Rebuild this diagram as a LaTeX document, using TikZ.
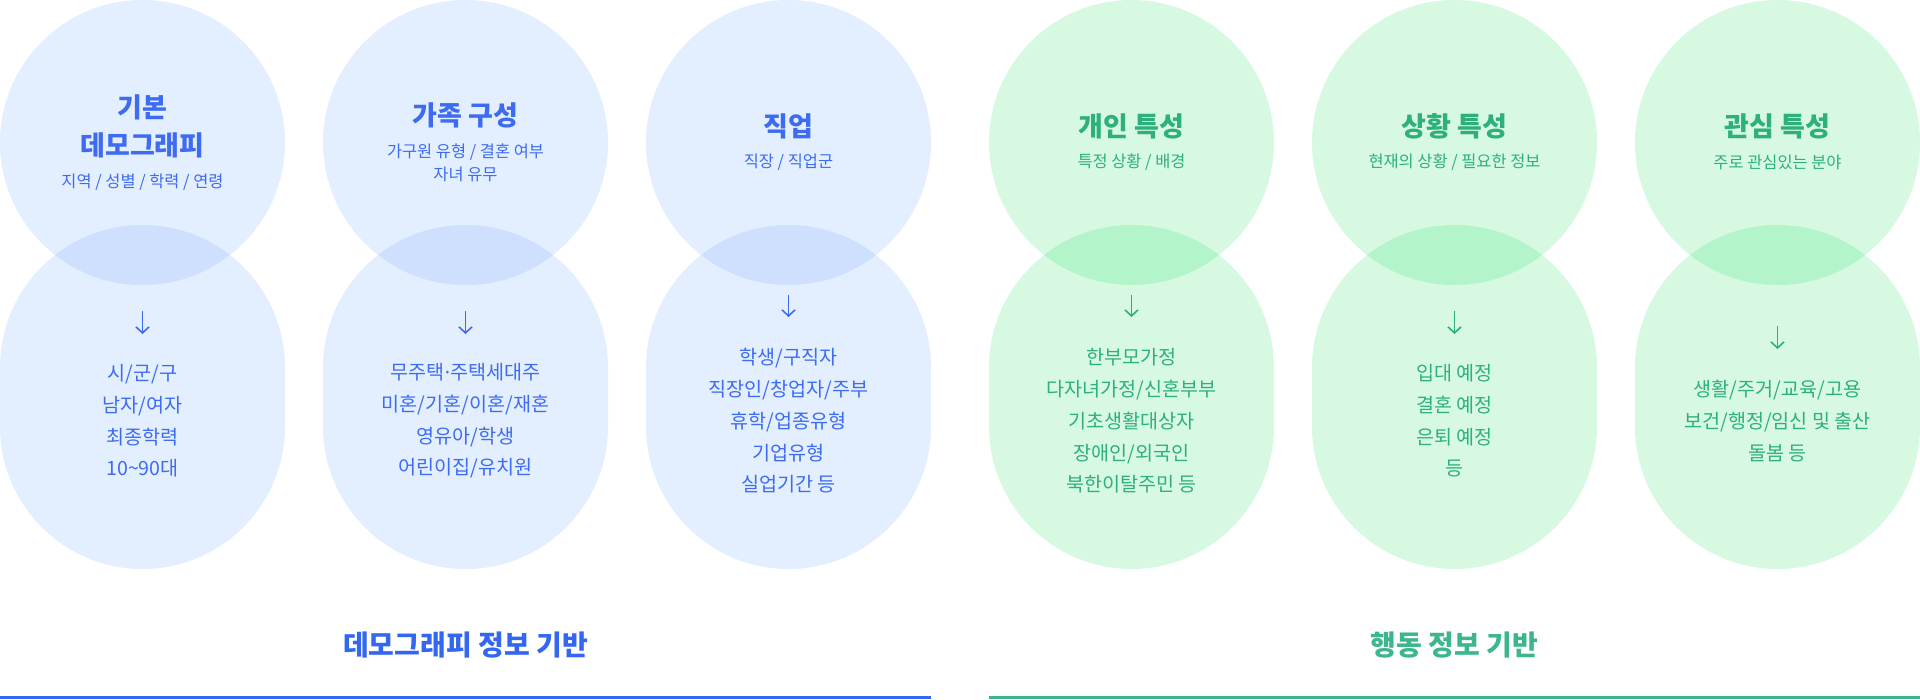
\documentclass[tikz,border=0pt]{standalone}
\usepackage{fontspec}
\setmainfont{Noto Sans CJK KR}
\newfontfamily\dotfont{Noto Sans}
\usepackage{tikz}
\usetikzlibrary{arrows.meta}

\definecolor{bluetxt}{HTML}{3D6CF2}
\definecolor{bluebg}{HTML}{E3EEFF}
\definecolor{bluelens}{HTML}{CEE0FE}
\definecolor{blueline}{HTML}{3467F1}
\definecolor{greentxt}{HTML}{2DB07C}
\definecolor{greenbg}{HTML}{D7F9E2}
\definecolor{greenlens}{HTML}{B4F4CA}
\definecolor{greenline}{HTML}{3CB68D}

\begin{document}
\begin{tikzpicture}[x=1pt, y=-1pt, >={Straight Barb[length=6pt,width=13pt]},
    titletext/.style={font=\bfseries\fontsize{27}{38}\selectfont, align=center},
    subtext/.style={font=\fontsize{16.4}{23}\selectfont, align=center},
    listtext/.style={font=\fontsize{19.6}{31.7}\selectfont, align=center},
    basetext/.style={font=\bfseries\fontsize{28}{34}\selectfont},
    pill/.style={rounded corners=142.5pt}]
    \useasboundingbox (0,0) rectangle (1920,699);

    % blue group
    \fill[bluebg] (142.5,142.5) circle (142.5);
    \fill[bluebg, pill] (0,225) rectangle (285,569);
    \begin{scope}
        \clip (142.5,142.5) circle (142.5);
        \fill[bluelens, pill] (0,225) rectangle (285,569);
    \end{scope}

    \fill[bluebg] (465.5,142.5) circle (142.5);
    \fill[bluebg, pill] (323,225) rectangle (608,569);
    \begin{scope}
        \clip (465.5,142.5) circle (142.5);
        \fill[bluelens, pill] (323,225) rectangle (608,569);
    \end{scope}

    \fill[bluebg] (788.5,142.5) circle (142.5);
    \fill[bluebg, pill] (646,225) rectangle (931,569);
    \begin{scope}
        \clip (788.5,142.5) circle (142.5);
        \fill[bluelens, pill] (646,225) rectangle (931,569);
    \end{scope}

    % green group
    \fill[greenbg] (1131.5,142.5) circle (142.5);
    \fill[greenbg, pill] (989,225) rectangle (1274,569);
    \begin{scope}
        \clip (1131.5,142.5) circle (142.5);
        \fill[greenlens, pill] (989,225) rectangle (1274,569);
    \end{scope}

    \fill[greenbg] (1454.5,142.5) circle (142.5);
    \fill[greenbg, pill] (1312,225) rectangle (1597,569);
    \begin{scope}
        \clip (1454.5,142.5) circle (142.5);
        \fill[greenlens, pill] (1312,225) rectangle (1597,569);
    \end{scope}

    \fill[greenbg] (1777.5,142.5) circle (142.5);
    \fill[greenbg, pill] (1635,225) rectangle (1920,569);
    \begin{scope}
        \clip (1777.5,142.5) circle (142.5);
        \fill[greenlens, pill] (1635,225) rectangle (1920,569);
    \end{scope}

    % arrow ends
    \coordinate (Ds) at (142.5,311);
    \coordinate (De) at (142.5,334);
    \coordinate (Fs) at (465.5,311);
    \coordinate (Fe) at (465.5,334);
    \coordinate (Js) at (788.5,295);
    \coordinate (Je) at (788.5,317);
    \coordinate (Ps) at (1131.5,295);
    \coordinate (Pe) at (1131.5,317);
    \coordinate (Ss) at (1454.5,311);
    \coordinate (Se) at (1454.5,334);
    \coordinate (Is) at (1777.5,326);
    \coordinate (Ie) at (1777.5,349);

    \draw[->, bluetxt, line width=1.6pt] (Ds) -- (De);
    \draw[->, bluetxt, line width=1.6pt] (Fs) -- (Fe);
    \draw[->, bluetxt, line width=1.6pt] (Js) -- (Je);
    \draw[->, greentxt, line width=1.6pt] (Ps) -- (Pe);
    \draw[->, greentxt, line width=1.6pt] (Ss) -- (Se);
    \draw[->, greentxt, line width=1.6pt] (Is) -- (Ie);

    % titles
    \node[titletext, bluetxt] (demoT) at (142.5,126) {기본\\데모그래피};
    \node[subtext, bluetxt] (demoS) at (142.5,182) {지역 / 성별 / 학력 / 연령};
    \node[titletext, bluetxt] (famT) at (465.5,115) {가족 구성};
    \node[subtext, bluetxt] (famS) at (465.5,163) {가구원 유형 / 결혼 여부\\자녀 유무};
    \node[titletext, bluetxt] (jobT) at (788.5,126) {직업};
    \node[subtext, bluetxt] (jobS) at (788.5,162) {직장 / 직업군};
    \node[titletext, greentxt] (perT) at (1131.5,126) {개인 특성};
    \node[subtext, greentxt] (perS) at (1131.5,162) {특정 상황 / 배경};
    \node[titletext, greentxt] (sitT) at (1454.5,126) {상황 특성};
    \node[subtext, greentxt] (sitS) at (1454.5,162) {현재의 상황 / 필요한 정보};
    \node[titletext, greentxt] (intT) at (1777.5,126) {관심 특성};
    \node[subtext, greentxt] (intS) at (1777.5,162) {주로 관심있는 분야};

    % lists
    \node[listtext, bluetxt] (demoL) at (142.5,421) {시/군/구\\남자/여자\\최종학력\\10\textasciitilde 90대};
    \node[listtext, bluetxt] (famL) at (465.5,421) {무주택{\dotfont ·}주택세대주\\미혼/기혼/이혼/재혼\\영유아/학생\\어린이집/유치원};
    \node[listtext, bluetxt] (jobL) at (788.5,421) {학생/구직자\\직장인/창업자/주부\\휴학/업종유형\\기업유형\\실업기간 등};
    \node[listtext, greentxt] (perL) at (1131.5,421) {한부모가정\\다자녀가정/신혼부부\\기초생활대상자\\장애인/외국인\\북한이탈주민 등};
    \node[listtext, greentxt] (sitL) at (1454.5,421) {입대 예정\\결혼 예정\\은퇴 예정\\등};
    \node[listtext, greentxt] (intL) at (1777.5,421) {생활/주거/교육/고용\\보건/행정/임신 및 출산\\돌봄 등};

    % bases
    \node[basetext, blueline] (demoB) at (465.5,645) {데모그래피 정보 기반};
    \node[basetext, greenline] (actB) at (1454.5,645) {행동 정보 기반};
    \fill[blueline] (0,696) rectangle (931,699);
    \fill[greenline] (989,696) rectangle (1920,699);
\end{tikzpicture}
\end{document}
